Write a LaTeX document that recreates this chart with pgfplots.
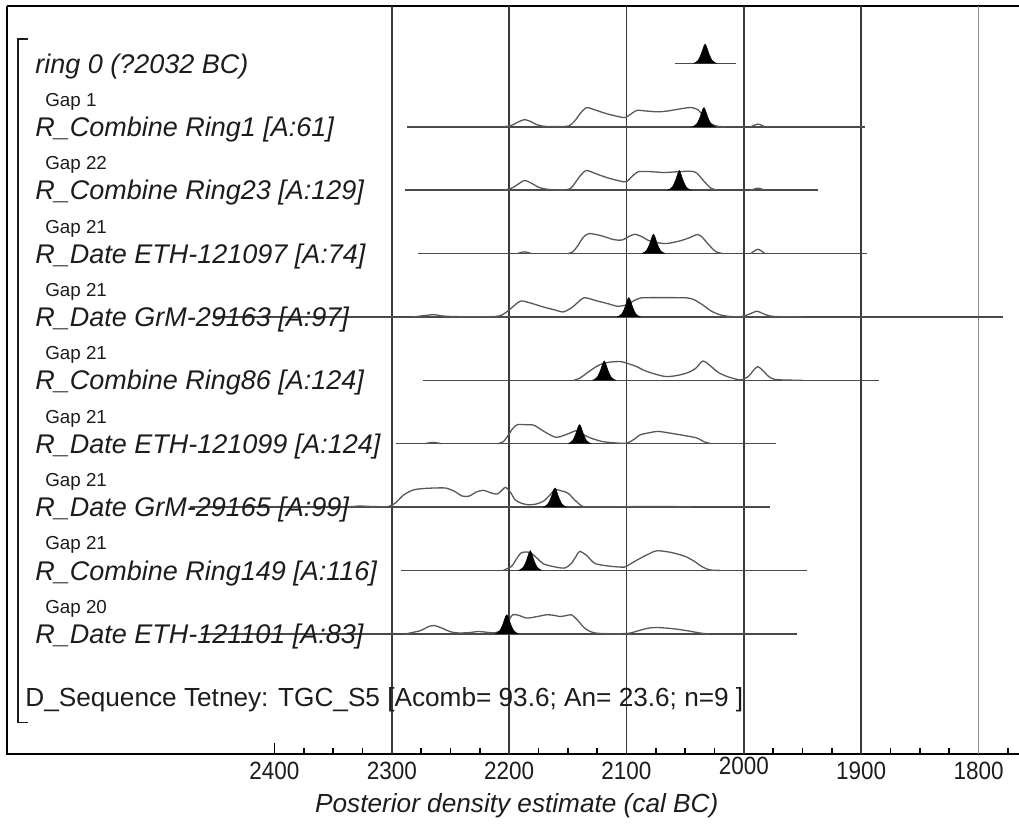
\documentclass[border=0pt]{standalone}
\usepackage{fontspec}
\setmainfont{Liberation Sans}
\usepackage{graphicx}
\usepackage{pgfplots}
\pgfplotsset{compat=1.18}

\definecolor{gridc}{HTML}{3A3A3A}
\definecolor{gridl}{HTML}{8C8C8C}
\definecolor{curvec}{HTML}{585858}
\definecolor{basec}{HTML}{4A4A4A}
\definecolor{txt}{HTML}{1C1C1C}

\newcommand{\lab}{\fontsize{13.5bp}{15bp}\selectfont\itshape}
\newcommand{\gapf}{\fontsize{9.4bp}{11bp}\selectfont}
\newcommand{\tl}[1]{\scalebox{0.9}[1]{#1}}

\pgfplotsset{
  outline/.style={curvec, line width=0.65bp, smooth, tension=0.45, mark=none},
  baseline/.style={basec, line width=0.8bp, mark=none},
  peak/.style={black, fill=black, line width=0.3bp, mark=none},
}

\begin{document}
\begin{tikzpicture}
\begin{axis}[
  x=0.587bp, y=0.5bp,
  x dir=reverse,
  xmin=1765.5, xmax=2627.9, ymin=71, ymax=819,
  axis line style={draw=none},
  clip=false,
  xtick={1800,1900,2000,2100,2200,2300,2400},
  xticklabels={\tl{1800},\tl{1900},\raisebox{2.5bp}{\tl{2000}},\tl{2100},\tl{2200},\tl{2300},\tl{2400}},
  minor xtick={1775,1825,1850,1875,1925,1950,1975,2025,2050,2075,2125,2150,2175,2225,2250,2275,2325,2350,2375},
  ytick=\empty,
  xtick pos=left,
  tick align=inside,
  major tick length=5.5bp, minor tick length=3bp,
  every tick/.append style={black, line width=0.75bp},
  xticklabel style={font=\fontsize{12.5bp}{14bp}\selectfont, text=txt, anchor=base, inner sep=0pt, yshift=-13bp},
]

% frame: bottom, left and top
\draw[black, line width=1bp] (axis cs:2627.9,819) -- (axis cs:2627.9,71) -- (axis cs:1765.5,71);
\draw[black, line width=1.1bp] (axis cs:2627.9,819) -- (axis cs:1765.5,819);

% vertical grid
\pgfplotsinvokeforeach{2300,2200,2100,2000,1900}{
  \draw[gridc, line width=0.75bp] (axis cs:#1,71) -- (axis cs:#1,819);
}
\draw[gridl, line width=0.75bp] (axis cs:1800,71) -- (axis cs:1800,819);

% sequence bracket
\draw[txt, line width=0.8bp] (axis cs:2610.1,786) -- (axis cs:2618.6,786) -- (axis cs:2618.6,102) -- (axis cs:2610.1,102);

% ---------------- ring 0 ----------------
\addplot[baseline] coordinates {(2059,761.5) (2007,761.5)};
\addplot[peak] table[x=year, y expr={761.5+\thisrow{h}}, row sep=\\] {
year h\\ 2043 0\\ 2041 1\\ 2039 3\\ 2038 5\\ 2037 7.5\\ 2036 10.5\\ 2035 14\\ 2034 17.5\\ 2033 19.3\\ 2032 17.5\\ 2031 14\\ 2030 10.5\\ 2029 7.5\\ 2028 5\\ 2027 3\\ 2025 1\\ 2023 0\\
};

% ---------------- Ring1 ----------------
\addplot[baseline] coordinates {(2287,698.1) (1897,698.1)};
\addplot[outline] table[x=year, y expr={698.1+\thisrow{h}}, row sep=\\] {
year h\\ 2205 0\\ 2198 1.5\\ 2192 5\\ 2187 7.2\\ 2182 5.5\\ 2176 2\\ 2170 0.5\\ 2158 0.2\\ 2149 1\\ 2144 6\\ 2139 14\\ 2134 19.2\\ 2127 17\\ 2118 13.5\\ 2108 10.5\\ 2101 9.3\\ 2096 13\\ 2091 16.5\\ 2083 15.8\\ 2073 15\\ 2064 16\\ 2054 18\\ 2045 19.3\\ 2039 17\\ 2034 10\\ 2028 3\\ 2022 0.5\\ 2015 0\\
};
\addplot[outline] table[x=year, y expr={698.1+\thisrow{h}}, row sep=\\] {
year h\\ 1994 0\\ 1988 2.7\\ 1982 0\\
};
\addplot[peak] table[x=year, y expr={698.1+\thisrow{h}}, row sep=\\] {
year h\\ 2044 0\\ 2042 1\\ 2040 3\\ 2039 5\\ 2038 7.5\\ 2037 10.5\\ 2036 14\\ 2035 17.5\\ 2034 19.3\\ 2033 17.5\\ 2032 14\\ 2031 10.5\\ 2030 7.5\\ 2029 5\\ 2028 3\\ 2026 1\\ 2024 0\\
};

% ---------------- Ring23 ----------------
\addplot[baseline] coordinates {(2289,634.7) (1937,634.7)};
\addplot[outline] table[x=year, y expr={634.7+\thisrow{h}}, row sep=\\] {
year h\\ 2205 0\\ 2198 2\\ 2193 5.5\\ 2187 9.7\\ 2181 7\\ 2175 3\\ 2168 1\\ 2155 0.3\\ 2148 1.5\\ 2144 7\\ 2139 15\\ 2134 19.7\\ 2125 16\\ 2115 12\\ 2105 9\\ 2100 8.5\\ 2095 14\\ 2090 18.5\\ 2080 18.6\\ 2068 17.7\\ 2056 18.5\\ 2045 19\\ 2040 17\\ 2034 9\\ 2028 2\\ 2022 0\\
};
\addplot[outline] table[x=year, y expr={634.7+\thisrow{h}}, row sep=\\] {
year h\\ 1994 0\\ 1988 2\\ 1982 0\\
};
\addplot[peak] table[x=year, y expr={634.7+\thisrow{h}}, row sep=\\] {
year h\\ 2065 0\\ 2063 1\\ 2061 3\\ 2060 5\\ 2059 7.5\\ 2058 10.5\\ 2057 14\\ 2056 17.5\\ 2055 19.7\\ 2054 17.5\\ 2053 14\\ 2052 10.5\\ 2051 7.5\\ 2050 5\\ 2049 3\\ 2047 1\\ 2045 0\\
};

% ---------------- ETH-121097 ----------------
\addplot[baseline] coordinates {(2278,571.3) (1895,571.3)};
\addplot[outline] table[x=year, y expr={571.3+\thisrow{h}}, row sep=\\] {
year h\\ 2193 0\\ 2187 1.7\\ 2181 0\\
};
\addplot[outline] table[x=year, y expr={571.3+\thisrow{h}}, row sep=\\] {
year h\\ 2150 0\\ 2146 1.5\\ 2142 7\\ 2137 16\\ 2132 20\\ 2122 18\\ 2111 14\\ 2104 13.5\\ 2098 17\\ 2093 19.3\\ 2087 17\\ 2081 13\\ 2074 11\\ 2066 10\\ 2055 12.5\\ 2046 16\\ 2040 19\\ 2036 17\\ 2030 9\\ 2024 2\\ 2018 0\\
};
\addplot[outline] table[x=year, y expr={571.3+\thisrow{h}}, row sep=\\] {
year h\\ 1994 0\\ 1988 4.3\\ 1982 0\\
};
\addplot[peak] table[x=year, y expr={571.3+\thisrow{h}}, row sep=\\] {
year h\\ 2087 0\\ 2085 1\\ 2083 3\\ 2082 5\\ 2081 7.5\\ 2080 10.5\\ 2079 14\\ 2078 17.5\\ 2077 19.3\\ 2076 17.5\\ 2075 14\\ 2074 10.5\\ 2073 7.5\\ 2072 5\\ 2071 3\\ 2069 1\\ 2067 0\\
};

% ---------------- GrM-29163 ----------------
\addplot[baseline] coordinates {(2452,507.9) (1779,507.9)};
\addplot[outline] table[x=year, y expr={507.9+\thisrow{h}}, row sep=\\] {
year h\\ 2282 0\\ 2271 1.5\\ 2264 2.3\\ 2257 1\\ 2245 0.3\\ 2215 0.3\\ 2207 1.5\\ 2201 6\\ 2195 12\\ 2190 16\\ 2182 14\\ 2171 10\\ 2161 7\\ 2154 5\\ 2147 9\\ 2141 15\\ 2136 19.3\\ 2125 16\\ 2115 13\\ 2108 10.7\\ 2100 12\\ 2094 16\\ 2088 19\\ 2075 19.3\\ 2060 19.3\\ 2048 19\\ 2042 17\\ 2035 12\\ 2028 6\\ 2020 2\\ 2012 0.5\\ 2003 0.2\\ 1996 2.5\\ 1989 5.7\\ 1984 3.5\\ 1978 1\\ 1970 0.3\\ 1950 0\\
};
\addplot[peak] table[x=year, y expr={507.9+\thisrow{h}}, row sep=\\] {
year h\\ 2108 0\\ 2106 1\\ 2104 3\\ 2103 5\\ 2102 7.5\\ 2101 10.5\\ 2100 14\\ 2099 17.5\\ 2098 19.3\\ 2097 17.5\\ 2096 14\\ 2095 10.5\\ 2094 7.5\\ 2093 5\\ 2092 3\\ 2090 1\\ 2088 0\\
};

% ---------------- Ring86 ----------------
\addplot[baseline] coordinates {(2273,444.5) (1885,444.5)};
\addplot[outline] table[x=year, y expr={444.5+\thisrow{h}}, row sep=\\] {
year h\\ 2145 0\\ 2140 2\\ 2134 7\\ 2128 12\\ 2122 16\\ 2114 18.2\\ 2105 18.7\\ 2098 16.5\\ 2092 14\\ 2084 9.5\\ 2075 6\\ 2066 3.7\\ 2056 5\\ 2047 8\\ 2041 12\\ 2035 19.3\\ 2030 16\\ 2022 8\\ 2014 3.7\\ 2006 1\\ 2002 0.5\\ 1996 4\\ 1991 11\\ 1988 13.7\\ 1984 10\\ 1979 4\\ 1974 1\\ 1965 0.3\\ 1950 0\\
};
\addplot[peak] table[x=year, y expr={444.5+\thisrow{h}}, row sep=\\] {
year h\\ 2129 0\\ 2127 1\\ 2125 3\\ 2124 5\\ 2123 7.5\\ 2122 10.5\\ 2121 14\\ 2120 17.5\\ 2119 19.3\\ 2118 17.5\\ 2117 14\\ 2116 10.5\\ 2115 7.5\\ 2114 5\\ 2113 3\\ 2111 1\\ 2109 0\\
};

% ---------------- ETH-121099 ----------------
\addplot[baseline] coordinates {(2296,381.1) (1973,381.1)};
\addplot[outline] table[x=year, y expr={381.1+\thisrow{h}}, row sep=\\] {
year h\\ 2272 0\\ 2265 1.3\\ 2258 0\\
};
\addplot[outline] table[x=year, y expr={381.1+\thisrow{h}}, row sep=\\] {
year h\\ 2210 0\\ 2205 2\\ 2201 8\\ 2197 15\\ 2193 19\\ 2186 19\\ 2179 18.5\\ 2174 15\\ 2167 10\\ 2160 6.3\\ 2154 8\\ 2148 10.7\\ 2142 13\\ 2135 8\\ 2129 5\\ 2120 2\\ 2110 0.8\\ 2100 0.5\\ 2094 4\\ 2088 9\\ 2080 11\\ 2073 12.3\\ 2060 10\\ 2050 8\\ 2040 5.7\\ 2034 2\\ 2028 0\\
};
\addplot[peak] table[x=year, y expr={381.1+\thisrow{h}}, row sep=\\] {
year h\\ 2150 0\\ 2148 1\\ 2146 3\\ 2145 5\\ 2144 7.5\\ 2143 10.5\\ 2142 14\\ 2141 17.5\\ 2140 19\\ 2139 17.5\\ 2138 14\\ 2137 10.5\\ 2136 7.5\\ 2135 5\\ 2134 3\\ 2132 1\\ 2130 0\\
};

% ---------------- GrM-29165 ----------------
\addplot[baseline] coordinates {(2472,317.7) (1978,317.7)};
\addplot[outline] table[x=year, y expr={317.7+\thisrow{h}}, row sep=\\] {
year h\\ 2338 0\\ 2328 1\\ 2316 0.5\\ 2303 0.5\\ 2297 4\\ 2290 12\\ 2282 17\\ 2275 18.3\\ 2265 19\\ 2254 19\\ 2247 16\\ 2240 11\\ 2234 11\\ 2228 15\\ 2222 16.7\\ 2215 14\\ 2210 13\\ 2206 17\\ 2203 19.7\\ 2199 15\\ 2195 7.3\\ 2190 4\\ 2184 2.3\\ 2177 3\\ 2171 5.7\\ 2166 11\\ 2161 17.3\\ 2155 16\\ 2150 14\\ 2144 7\\ 2138 1\\ 2132 0\\ 2105 0.2\\ 2085 0.6\\ 2062 0.5\\ 2045 0\\
};
\addplot[peak] table[x=year, y expr={317.7+\thisrow{h}}, row sep=\\] {
year h\\ 2171 0\\ 2169 1\\ 2167 3\\ 2166 5\\ 2165 7.5\\ 2164 10.5\\ 2163 14\\ 2162 17.5\\ 2161 19\\ 2160 17.5\\ 2159 14\\ 2158 10.5\\ 2157 7.5\\ 2156 5\\ 2155 3\\ 2153 1\\ 2151 0\\
};

% ---------------- Ring149 ----------------
\addplot[baseline] coordinates {(2292,254.3) (1946,254.3)};
\addplot[outline] table[x=year, y expr={254.3+\thisrow{h}}, row sep=\\] {
year h\\ 2205 0\\ 2198 4\\ 2194 11\\ 2190 17.3\\ 2185 18.5\\ 2181 17\\ 2176 12\\ 2171 6.7\\ 2163 4\\ 2153 2.3\\ 2147 7\\ 2143 14\\ 2140 19\\ 2134 15\\ 2127 7\\ 2116 4.5\\ 2102 3.3\\ 2096 7\\ 2088 12.3\\ 2080 17\\ 2074 19.7\\ 2062 18\\ 2050 14\\ 2042 9\\ 2036 4\\ 2029 0.5\\ 2020 0\\
};
\addplot[peak] table[x=year, y expr={254.3+\thisrow{h}}, row sep=\\] {
year h\\ 2192 0\\ 2190 1\\ 2188 3\\ 2187 5\\ 2186 7.5\\ 2185 10.5\\ 2184 14\\ 2183 17.5\\ 2182 19.7\\ 2181 17.5\\ 2180 14\\ 2179 10.5\\ 2178 7.5\\ 2177 5\\ 2176 3\\ 2174 1\\ 2172 0\\
};

% ---------------- ETH-121101 ----------------
\addplot[baseline] coordinates {(2463,190.9) (1955,190.9)};
\addplot[outline] table[x=year, y expr={190.9+\thisrow{h}}, row sep=\\] {
year h\\ 2288 0\\ 2276 3\\ 2269 7\\ 2264 8.3\\ 2258 6\\ 2250 2\\ 2243 0.8\\ 2234 1.2\\ 2226 2.3\\ 2219 1.5\\ 2212 1\\ 2206 4\\ 2201 12\\ 2197 19\\ 2192 18.5\\ 2185 15.7\\ 2177 17\\ 2168 19\\ 2162 18.5\\ 2157 17.3\\ 2152 18\\ 2147 19\\ 2142 14\\ 2136 6\\ 2131 2.3\\ 2125 0.5\\ 2110 0\\ 2098 0.5\\ 2090 3\\ 2082 5.5\\ 2074 6.3\\ 2060 5\\ 2048 3\\ 2036 0.5\\ 2030 0\\
};
\addplot[peak] table[x=year, y expr={190.9+\thisrow{h}}, row sep=\\] {
year h\\ 2212 0\\ 2210 1\\ 2208 3\\ 2207 5\\ 2206 7.5\\ 2205 10.5\\ 2204 14\\ 2203 17.5\\ 2202 19\\ 2201 17.5\\ 2200 14\\ 2199 10.5\\ 2198 7.5\\ 2197 5\\ 2196 3\\ 2194 1\\ 2192 0\\
};

% ---------------- labels ----------------
\begin{scope}[every node/.style={inner sep=0pt, anchor=base west, text=txt}]
\node[font=\lab] at (axis cs:2604.1,751.8) {ring 0 (?2032 BC)};
\node[font=\gapf] at (axis cs:2595.6,718.6) {Gap 1};
\node[font=\lab] at (axis cs:2604.1,688.4) {R\_Combine Ring1 [A:61]};
\node[font=\gapf] at (axis cs:2595.6,655.2) {Gap 22};
\node[font=\lab] at (axis cs:2604.1,625.0) {R\_Combine Ring23 [A:129]};
\node[font=\gapf] at (axis cs:2595.6,591.8) {Gap 21};
\node[font=\lab] at (axis cs:2604.1,561.6) {R\_Date ETH-121097 [A:74]};
\node[font=\gapf] at (axis cs:2595.6,528.4) {Gap 21};
\node[font=\lab] at (axis cs:2604.1,498.2) {R\_Date GrM-29163 [A:97]};
\node[font=\gapf] at (axis cs:2595.6,465.0) {Gap 21};
\node[font=\lab] at (axis cs:2604.1,434.8) {R\_Combine Ring86 [A:124]};
\node[font=\gapf] at (axis cs:2595.6,401.6) {Gap 21};
\node[font=\lab] at (axis cs:2604.1,371.4) {R\_Date ETH-121099 [A:124]};
\node[font=\gapf] at (axis cs:2595.6,338.2) {Gap 21};
\node[font=\lab] at (axis cs:2604.1,308.0) {R\_Date GrM-29165 [A:99]};
\node[font=\gapf] at (axis cs:2595.6,274.8) {Gap 21};
\node[font=\lab] at (axis cs:2604.1,244.6) {R\_Combine Ring149 [A:116]};
\node[font=\gapf] at (axis cs:2595.6,211.4) {Gap 20};
\node[font=\lab] at (axis cs:2604.1,181.2) {R\_Date ETH-121101 [A:83]};
\node[font=\fontsize{13.1bp}{15bp}\selectfont] at (axis cs:2612.6,118.2) {D\_Sequence Tetney: TGC\_S5 [Acomb= 93.6; An= 23.6; n=9 ]};
\end{scope}

\node[font=\fontsize{13.1bp}{15bp}\selectfont\itshape, text=txt, anchor=base, inner sep=0pt] at (axis cs:2193.5,12) {Posterior density estimate (cal BC)};

\coordinate (bbA) at (axis cs:2633.9,0);
\coordinate (bbB) at (axis cs:1765.5,825);
\end{axis}
\pgfresetboundingbox
\path[use as bounding box] (bbA) rectangle (bbB);
\end{tikzpicture}
\end{document}
